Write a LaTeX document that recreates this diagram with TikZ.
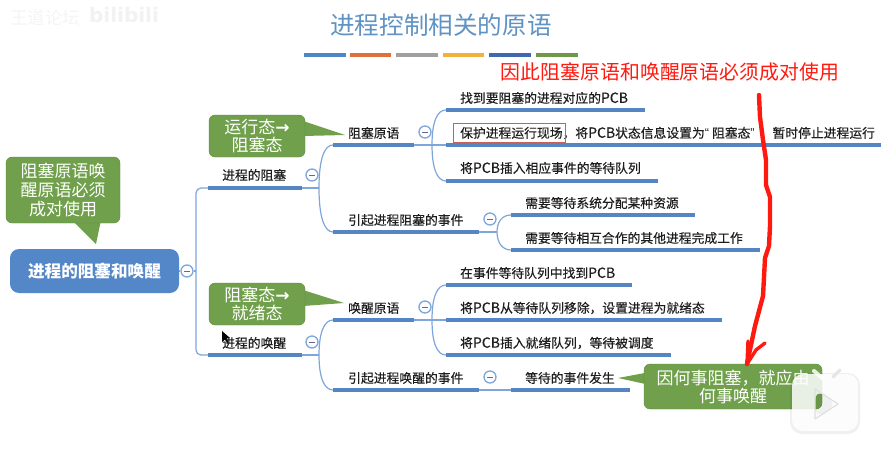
\documentclass[tikz,border=0pt]{standalone}
\usepackage{fontspec}
\setmainfont{Noto Sans CJK SC}
\newfontfamily\latinbold{DejaVu Sans}
\newfontfamily\quotefont{Liberation Sans}
\newfontfamily\topicfont[FakeBold=0.3]{Noto Sans CJK SC}
\definecolor{titleblue}{HTML}{5F93C4}
\definecolor{barblue}{HTML}{4F86C6}
\definecolor{barorange}{HTML}{E0703A}
\definecolor{bargray}{HTML}{A0A0A0}
\definecolor{baryellow}{HTML}{F2B03C}
\definecolor{bardark}{HTML}{3F68AE}
\definecolor{bargreen}{HTML}{70984A}
\definecolor{calloutgreen}{HTML}{70A04C}
\definecolor{rootblue}{HTML}{5487C7}
\definecolor{linklight}{HTML}{7FA6DA}
\definecolor{underline}{HTML}{5585C2}
\definecolor{inkred}{HTML}{FF1A10}
\definecolor{boxred}{HTML}{C8605A}
\definecolor{textdark}{HTML}{1E1E1E}
\newcommand{\fs}[1]{\fontsize{#1}{#1}\selectfont}
\newcommand{\pcb}{{\fs{14}PCB}}
\tikzset{
  topictext/.style={anchor=west,inner sep=0pt,text=textdark,font=\topicfont\fs{12.8}},
  topicline/.style={draw=underline,line width=3.6pt},
  link/.style={draw=linklight,line width=1.2pt},
  collapse/.style={circle,draw=linklight,line width=1.3pt,fill=white,minimum size=12pt,inner sep=0pt,
    path picture={\draw[draw=gray!80!blue,line width=1pt] (path picture bounding box.center)+(-3pt,0) -- +(3pt,0);}},
  calloutbox/.style={rectangle,rounded corners=6pt,fill=calloutgreen,draw=calloutgreen!85!black,line width=.4pt,
    text=white,align=center,inner sep=0pt,font=\fs{17}},
  tipfill/.style={fill=calloutgreen,draw=none},
  accentbar/.style={line width=4.8pt},
  redstroke/.style={draw=inkred,line width=4.4pt,line cap=round,line join=round}
}
% name, x left, x right, y line, x text, y text, text
\newcommand{\topic}[7]{%
  \coordinate (#1-l) at (#2,#4);
  \coordinate (#1-r) at (#3,#4);
  \node[topictext] (#1) at (#5,#6) {#7};
}
\begin{document}
\begin{tikzpicture}[x=1pt,y=-1pt]
\useasboundingbox (0,0) rectangle (881,452);
\fill[white] (0,0) rectangle (881,452);

% watermark
\node[text=black!4,font=\fs{17.5},inner sep=0pt] (wm1) at (45,18) {王道论坛};
\node[text=black!5,font=\latinbold\bfseries\fs{20},inner sep=0pt] (wm2) at (124,15) {bilibili};

% title
\node[text=titleblue,font=\fs{24.6},inner sep=0pt] (title) at (441,25) {进程控制相关的原语};
\foreach \a/\b/\c in {304/346/barblue,350/391/barorange,396/438/bargray,443/484/baryellow,489/531/bardark,536/578/bargreen}
  \draw[accentbar,draw=\c] (\a,55) -- (\b,55);

% red note
\node[text=inkred,font=\fs{19.9},inner sep=0pt] (note) at (670,72) {因此阻塞原语和唤醒原语必须成对使用};

% root
\node[rectangle,rounded corners=9pt,fill=rootblue,text=white,minimum width=169pt,minimum height=44pt,inner sep=0pt,
  font=\bfseries\fs{16.6}] (root) at (94.5,271) {进程的阻塞和唤醒};

% level 1
\topic{blk}{208}{302}{188}{222}{175}{进程的阻塞}
\topic{wak}{208}{302}{355}{222}{343}{进程的唤醒}
% level 2
\topic{bprim}{333}{414}{145}{348}{133}{阻塞原语}
\topic{bcause}{333}{479}{232}{348}{220}{引起进程阻塞的事件}
\topic{wprim}{333}{414}{320}{348}{308}{唤醒原语}
\topic{wcause}{333}{479}{390}{348}{378}{引起进程唤醒的事件}
% level 3
\topic{b1}{446}{645}{110}{460}{98}{找到要阻塞的进程对应的\pcb}
\topic{b2}{446}{881}{145}{460}{133}{保护进程运行现场，将\pcb 状态信息设置为{\quotefont “}\kern3pt 阻塞态{\quotefont ”}\kern5pt ，暂时停止进程运行}
\topic{b3}{446}{658}{181}{460}{168}{将\pcb 插入相应事件的等待队列}
\topic{c1}{511}{695}{215}{525}{203}{需要等待系统分配某种资源}
\topic{c2}{511}{760}{250}{525}{238}{需要等待相互合作的其他进程完成工作}
\topic{w1}{446}{632}{285}{460}{273}{在事件等待队列中找到\pcb}
\topic{w2}{446}{722}{320}{460}{308}{将\pcb 从等待队列移除，设置进程为就绪态}
\topic{w3}{446}{671}{355}{460}{343}{将\pcb 插入就绪队列，等待被调度}
\topic{d1}{511}{630}{390}{525}{378}{等待的事件发生}

% connectors
\node[collapse] (c0) at (187,271) {};
\coordinate (trunk) at (196,271);
\draw[link] (root.east) -- (c0.west);
\draw[link] (c0.east) -- (trunk);
\draw[link,rounded corners=5pt] (blk-l) -| (trunk) |- (wak-l);

\coordinate (fork1) at (319,188);
\draw[link] (blk-r) -- (fork1);
\draw[link] (fork1) .. controls (319,160) and (324,145) .. (bprim-l);
\draw[link] (fork1) .. controls (319,216) and (324,232) .. (bcause-l);

\coordinate (fork2) at (319,355);
\draw[link] (wak-r) -- (fork2);
\draw[link] (fork2) .. controls (319,333) and (324,320) .. (wprim-l);
\draw[link] (fork2) .. controls (319,377) and (324,390) .. (wcause-l);

\coordinate (fork3) at (432,145);
\draw[link] (bprim-r) -- (b2-l);
\draw[link] (fork3) .. controls (432,122) and (437,110) .. (b1-l);
\draw[link] (fork3) .. controls (432,168) and (437,181) .. (b3-l);

\coordinate (fork4) at (497,232);
\draw[link] (bcause-r) -- (fork4);
\draw[link] (fork4) .. controls (497,222) and (502,215) .. (c1-l);
\draw[link] (fork4) .. controls (497,242) and (502,250) .. (c2-l);

\coordinate (fork5) at (432,320);
\draw[link] (wprim-r) -- (w2-l);
\draw[link] (fork5) .. controls (432,297) and (437,285) .. (w1-l);
\draw[link] (fork5) .. controls (432,343) and (437,355) .. (w3-l);

\draw[link] (wcause-r) -- (d1-l);

% underlines on top of the links
\foreach \n in {blk,wak,bprim,bcause,wprim,wcause,b1,b2,b3,c1,c2,w1,w2,w3,d1}
  \draw[topicline] (\n-l) -- (\n-r);

% collapse buttons
\node[collapse] (cblk) at (312,175) {};
\node[collapse] (cwak) at (312,342) {};
\node[collapse] (cbp) at (425,132) {};
\node[collapse] (cbc) at (490,219) {};
\node[collapse] (cwp) at (425,307) {};
\node[collapse] (cwc) at (490,377) {};

% callouts
\coordinate (tipa) at (345,135);
\fill[tipfill] (303,121) -- (tipa) -- (303,136) -- cycle;
\node[calloutbox,minimum width=96pt,minimum height=42pt] (calla) at (257,136) {运行态{\latinbold\bfseries →}\\[1pt]阻塞态};

\coordinate (tipb) at (96,244);
\fill[tipfill] (72,220) -- (tipb) -- (101,220) -- cycle;
\node[calloutbox,minimum width=114pt,minimum height=66pt] (callb) at (63,190) {阻塞原语唤\\[2pt]醒原语必须\\[2pt]成对使用};

\coordinate (tipc) at (344,303);
\fill[tipfill] (303,290) -- (tipc) -- (303,306) -- cycle;
\node[calloutbox,minimum width=96pt,minimum height=42pt] (callc) at (257,304) {阻塞态{\latinbold\bfseries →}\\[1pt]就绪态};

\coordinate (tipd) at (618,378);
\fill[tipfill] (650,372) -- (tipd) -- (650,385) -- cycle;
\node[calloutbox,minimum width=178pt,minimum height=45pt] (calld) at (733,386.5) {因何事阻塞，就应由\\[1pt]何事唤醒};

% red highlight box
\node[draw=boxred,line width=.7pt,minimum width=112pt,minimum height=19pt,inner sep=0pt] (hilite) at (509,132.5) {};

% red freehand stroke
\coordinate (strokea) at (759,95);
\coordinate (strokeb) at (747,364);
\draw[redstroke] (strokea) -- (760,117) -- (763,140) -- (766,160) -- (766,185) -- (770,197) -- (770,226)
  -- (769,246) -- (765,258) -- (763,296) -- (755,326) -- (strokeb);
\draw[redstroke,line width=3.4pt] (748,341) -- (strokeb) -- (756,350) -- (765,343);

% play badge
\fill[black,opacity=.06,rounded corners=12pt] (790,373) rectangle (860,434);
\fill[white,opacity=.85,rounded corners=11pt,even odd rule]
  (792,374) rectangle (858,431)
  (815,389) -- (838,404) -- (815,419) -- cycle;
\draw[white,opacity=.85,line width=4pt,line cap=round] (814,371) -- (822,378);
\draw[black!10,line width=3pt,line cap=round] (840,370) -- (833,377);
\draw[black!12,line width=1.2pt,line join=round] (815,389) -- (838,404) -- (815,419) -- cycle;

% pointer
\fill[black] (222,331) -- (222,342) -- (225,339.5) -- (227,343) -- (228.5,342) -- (226.5,338.5) -- (230,338) -- cycle;
\end{tikzpicture}
\end{document}
